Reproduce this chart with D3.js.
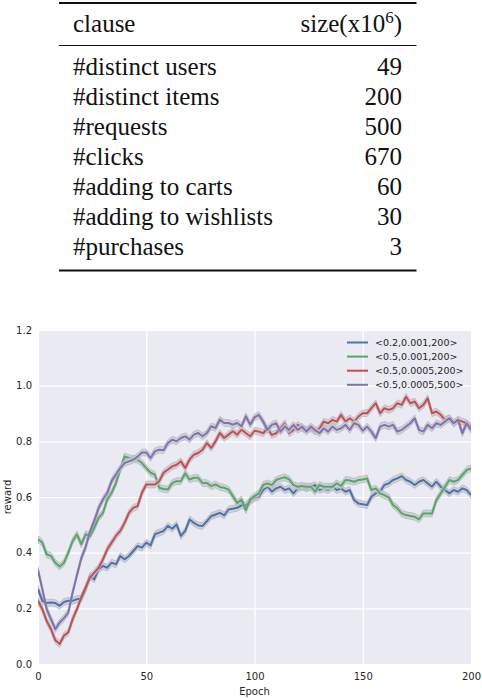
<!DOCTYPE html>
<html>
<head>
<meta charset="utf-8">
<script src="https://cdn.jsdelivr.net/npm/d3@7"></script>
<style>
  body { margin: 0; background: #fff; }
  svg { display: block; }
  .tbl text { font-family: "Liberation Serif", "DejaVu Serif", serif; font-size: 25px; fill: #111; }
  .axis text, .lbl, .legend text { font-family: "DejaVu Sans", sans-serif; fill: #262626; }
</style>
</head>
<body>
<div id="chart"></div>
<script>
// Table data
const clauses = ["#distinct users", "#distinct items", "#requests", "#clicks",
                 "#adding to carts", "#adding to wishlists", "#purchases"];
const sizes = [49, 200, 500, 670, 60, 30, 3];

// Chart data (reward per epoch, read every 2 epochs)
const epochs = [0,2,4,6,8,10,12,14,16,18,20,22,24,26,28,30,32,34,36,38,40,42,44,46,48,50,
  52,54,56,58,60,62,64,66,68,70,72,74,76,78,80,82,84,86,88,90,92,94,96,98,100,
  102,104,106,108,110,112,114,116,118,120,122,124,126,128,130,132,134,136,138,140,
  142,144,146,148,150,152,154,156,158,160,162,164,166,168,170,172,174,176,178,180,
  182,184,186,188,190,192,194,196,198,200];

const seriesNames = ["<0.2,0.001,200>", "<0.5,0.001,200>", "<0.5,0.0005,200>", "<0.5,0.0005,500>"];
const seriesColors = ["#4C72B0", "#55A868", "#C44E52", "#8172B2"];

const blueVals = [0.269,0.227,0.219,0.221,0.219,0.209,0.223,0.227,0.227,0.233,
  0.235,0.269,0.316,0.304,0.34,0.352,0.346,0.364,0.358,0.388,
  0.376,0.388,0.406,0.424,0.418,0.436,0.426,0.466,0.472,0.478,
  0.496,0.486,0.501,0.46,0.478,0.519,0.507,0.498,0.496,0.513,
  0.531,0.537,0.543,0.534,0.555,0.558,0.561,0.57,0.57,0.585,
  0.596,0.601,0.625,0.637,0.619,0.631,0.637,0.625,0.631,0.613,
  0.631,0.637,0.631,0.637,0.643,0.625,0.631,0.625,0.637,0.625,
  0.631,0.619,0.625,0.589,0.577,0.574,0.571,0.601,0.613,0.619,
  0.643,0.649,0.661,0.667,0.675,0.661,0.655,0.643,0.655,0.661,
  0.649,0.637,0.655,0.637,0.625,0.613,0.625,0.619,0.631,0.625,
  0.607];

const greenVals = [0.448,0.436,0.394,0.388,0.364,0.35,0.364,0.40,0.442,0.466,
  0.43,0.466,0.46,0.49,0.525,0.543,0.591,0.615,0.65,0.699,
  0.746,0.74,0.737,0.734,0.722,0.704,0.687,0.68,0.633,0.629,
  0.627,0.65,0.657,0.657,0.685,0.663,0.669,0.669,0.65,0.65,
  0.639,0.645,0.636,0.633,0.627,0.603,0.579,0.591,0.553,0.591,
  0.603,0.613,0.643,0.649,0.643,0.661,0.667,0.671,0.663,0.643,
  0.637,0.64,0.637,0.637,0.619,0.643,0.637,0.637,0.637,0.649,
  0.64,0.661,0.659,0.655,0.661,0.663,0.667,0.625,0.631,0.613,
  0.607,0.599,0.571,0.559,0.541,0.535,0.532,0.529,0.52,0.541,
  0.541,0.541,0.589,0.613,0.637,0.661,0.655,0.661,0.679,0.697,
  0.703];

const redVals = [0.227,0.197,0.155,0.125,0.085,0.072,0.102,0.114,0.161,0.197,
  0.239,0.275,0.31,0.328,0.346,0.376,0.412,0.436,0.46,0.478,
  0.507,0.543,0.561,0.567,0.615,0.645,0.645,0.645,0.657,0.687,
  0.699,0.71,0.716,0.728,0.704,0.734,0.752,0.758,0.77,0.794,
  0.776,0.80,0.83,0.812,0.824,0.836,0.824,0.842,0.83,0.818,
  0.838,0.835,0.829,0.847,0.823,0.829,0.847,0.865,0.829,0.841,
  0.859,0.847,0.841,0.847,0.835,0.847,0.871,0.865,0.877,0.871,
  0.895,0.871,0.883,0.871,0.889,0.901,0.901,0.919,0.937,0.901,
  0.919,0.913,0.919,0.937,0.931,0.96,0.937,0.943,0.919,0.931,
  0.955,0.901,0.907,0.895,0.877,0.883,0.865,0.877,0.871,0.865,
  0.853];

const purpleVals = [0.338,0.269,0.197,0.161,0.125,0.149,0.165,0.185,0.257,0.32,
  0.38,0.42,0.475,0.515,0.56,0.591,0.615,0.657,0.681,0.704,
  0.722,0.728,0.734,0.745,0.76,0.76,0.74,0.764,0.77,0.768,
  0.794,0.806,0.80,0.812,0.818,0.806,0.824,0.83,0.818,0.83,
  0.854,0.848,0.878,0.866,0.866,0.86,0.866,0.854,0.89,0.86,
  0.886,0.895,0.871,0.841,0.859,0.865,0.835,0.853,0.841,0.859,
  0.841,0.853,0.835,0.853,0.841,0.829,0.847,0.835,0.853,0.841,
  0.847,0.859,0.841,0.865,0.859,0.838,0.853,0.835,0.811,0.853,
  0.859,0.853,0.859,0.835,0.841,0.853,0.865,0.883,0.841,0.835,
  0.859,0.847,0.865,0.859,0.871,0.883,0.865,0.877,0.829,0.865,
  0.841];

const seriesVals = [blueVals, greenVals, redVals, purpleVals];
const ciHalf = 0.012; // half width of the grey confidence band

const xTicks = [0, 50, 100, 150, 200];
const yTicks = [0.0, 0.2, 0.4, 0.6, 0.8, 1.0, 1.2];

// Canvas
const W = 482, H = 698;
const svg = d3.select("#chart").append("svg")
    .attr("width", W)
    .attr("height", H);

// ---------- Table ----------
const tbl = svg.append("g").attr("class", "tbl");
const tLeft = 59, tRight = 416.5, colL = 73, colR = 402;

tbl.append("line").attr("x1", tLeft).attr("x2", tRight)
    .attr("y1", 3).attr("y2", 3).attr("stroke", "#111").attr("stroke-width", 2);
tbl.append("line").attr("x1", tLeft).attr("x2", tRight)
    .attr("y1", 45.5).attr("y2", 45.5).attr("stroke", "#111").attr("stroke-width", 1);
tbl.append("line").attr("x1", tLeft).attr("x2", tRight)
    .attr("y1", 270.5).attr("y2", 270.5).attr("stroke", "#111").attr("stroke-width", 2);

tbl.append("text").attr("x", colL).attr("y", 32).text("clause");
const hdr = tbl.append("text").attr("x", colR).attr("y", 32).attr("text-anchor", "end");
hdr.append("tspan").text("size(x10");
hdr.append("tspan").attr("dy", -9).style("font-size", "17px").text("6");
hdr.append("tspan").attr("dy", 9).text(")");

const rowY = d3.scaleLinear().domain([0, 1]).range([75, 105]);

tbl.selectAll(".clause").data(clauses).join("text")
    .attr("class", "clause")
    .attr("x", colL)
    .attr("y", (d, i) => rowY(i))
    .text(d => d);

tbl.selectAll(".size").data(sizes).join("text")
    .attr("class", "size")
    .attr("x", colR)
    .attr("y", (d, i) => rowY(i))
    .attr("text-anchor", "end")
    .text(d => d);

// ---------- Chart ----------
const plot = {left: 38, right: 471, top: 330, bottom: 664};
const xScale = d3.scaleLinear().domain([0, 200]).range([plot.left, plot.right]);
const yScale = d3.scaleLinear().domain([0, 1.2]).range([plot.bottom, plot.top]);

svg.append("rect")
    .attr("x", plot.left).attr("y", plot.top)
    .attr("width", plot.right - plot.left)
    .attr("height", plot.bottom - plot.top)
    .attr("fill", "#EAEAF2");

// Axes + grid
const xAxis = svg.append("g")
    .attr("class", "axis")
    .attr("transform", `translate(0,${plot.bottom})`)
    .call(d3.axisBottom(xScale).tickValues(xTicks)
        .tickSize(-(plot.bottom - plot.top)).tickPadding(9).tickFormat(d3.format("d")));

const yAxis = svg.append("g")
    .attr("class", "axis")
    .attr("transform", `translate(${plot.left},0)`)
    .call(d3.axisLeft(yScale).tickValues(yTicks)
        .tickSize(-(plot.right - plot.left)).tickPadding(6).tickFormat(d3.format(".1f")));

svg.selectAll(".axis .domain").remove();
svg.selectAll(".axis line").attr("stroke", "#fff").attr("stroke-width", 1.2);
svg.selectAll(".axis text").style("font-size", "10px");

// Axis labels
svg.append("text")
    .attr("class", "lbl")
    .attr("text-anchor", "middle")
    .attr("x", (plot.left + plot.right) / 2)
    .attr("y", 695)
    .style("font-size", "10px")
    .text("Epoch");

svg.append("text")
    .attr("class", "lbl")
    .attr("text-anchor", "middle")
    .attr("transform", "rotate(-90)")
    .attr("x", -(plot.top + plot.bottom) / 2)
    .attr("y", 11)
    .style("font-size", "10px")
    .text("reward");

// Lines with confidence bands
svg.append("clipPath").attr("id", "clip")
  .append("rect")
    .attr("x", plot.left).attr("y", plot.top)
    .attr("width", plot.right - plot.left)
    .attr("height", plot.bottom - plot.top);

const lines = svg.append("g").attr("clip-path", "url(#clip)");

const band = d3.area()
    .x((d, i) => xScale(epochs[i]))
    .y0(d => yScale(d - ciHalf))
    .y1(d => yScale(d + ciHalf));

const line = d3.line()
    .x((d, i) => xScale(epochs[i]))
    .y(d => yScale(d));

seriesVals.forEach((vals, s) => {
    lines.append("path")
        .datum(vals)
        .attr("d", band)
        .attr("fill", "#c9c9cf")
        .attr("fill-opacity", 0.8)
        .attr("stroke", "#aaaab0")
        .attr("stroke-width", 0.6);

    lines.append("path")
        .datum(vals)
        .attr("d", line)
        .attr("fill", "none")
        .attr("stroke", seriesColors[s])
        .attr("stroke-width", 2)
        .attr("stroke-linejoin", "round");
});

// Legend
const legend = svg.append("g")
    .attr("class", "legend")
    .attr("transform", "translate(347,342.5)");

seriesNames.forEach((name, i) => {
    const row = legend.append("g").attr("transform", `translate(0,${i * 14.1})`);
    row.append("line")
        .attr("x1", 0).attr("x2", 21)
        .attr("stroke", seriesColors[i])
        .attr("stroke-width", 2);
    row.append("text")
        .attr("x", 28)
        .attr("dy", "0.35em")
        .style("font-size", "9.5px")
        .text(name);
});
</script>
</body>
</html>
